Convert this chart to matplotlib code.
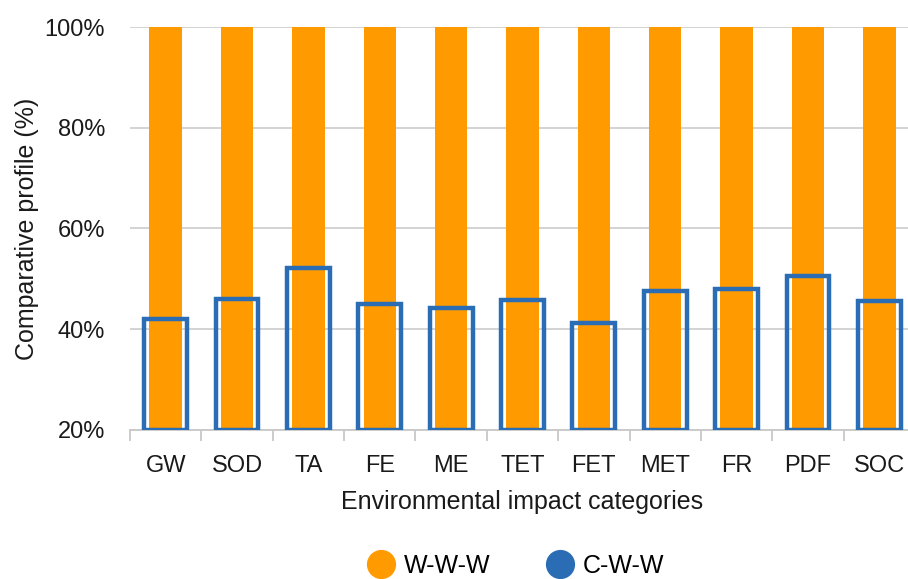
import matplotlib
matplotlib.use("Agg")
import matplotlib.pyplot as plt
import numpy as np
from matplotlib.lines import Line2D

plt.rcParams['font.family'] = ['Liberation Sans', 'DejaVu Sans']

categories = ['GW', 'SOD', 'TA', 'FE', 'ME', 'TET', 'FET', 'MET', 'FR', 'PDF', 'SOC']
www = [100, 100, 100, 100, 100, 100, 100, 100, 100, 100, 100]
cww = [42.0, 46.1, 52.1, 45.0, 44.3, 45.9, 41.2, 47.5, 48.0, 50.6, 45.7]
yticks = [20, 40, 60, 80, 100]

orange = '#ff9a00'
blue = '#2a6db5'
base = 20

fig = plt.figure(figsize=(9.08, 5.79), dpi=100)
ax = fig.add_axes([130 / 908, 1 - 430 / 579, 785 / 908, 403 / 579])

x = np.arange(len(categories))
ax.bar(x, np.array(www) - base, bottom=base, width=0.455, color=orange, zorder=2)
ax.bar(x, np.array(cww) - base, bottom=base, width=0.6, fill=False,
       edgecolor=blue, linewidth=3.2, zorder=3)

ax.set_xlim(-0.5, len(categories) - 0.5)
ax.set_ylim(20, 100)
ax.set_yticks(yticks)
ax.set_yticklabels(['%d%%' % v for v in yticks])
ax.set_xticks(x)
ax.set_xticklabels(categories)
ax.set_xticks(np.arange(len(categories) + 1) - 0.5, minor=True)
ax.tick_params(axis='x', which='major', length=0, pad=18, labelsize=17, colors='#1a1a1a')
ax.tick_params(axis='x', which='minor', length=8, width=1.3, color='#c8c8c8')
ax.tick_params(axis='y', length=0, pad=18, labelsize=17, colors='#1a1a1a')

ax.grid(axis='y', color='#d0d0d0', linewidth=1.3, zorder=0)
ax.set_axisbelow(True)
for s in ['left', 'right', 'top']:
    ax.spines[s].set_visible(False)
ax.spines['bottom'].set_color('#c8c8c8')
ax.spines['bottom'].set_linewidth(1.3)

ax.set_xlabel('Environmental impact categories', fontsize=18, color='#1a1a1a', labelpad=9)
ax.set_ylabel('Comparative profile (%)', fontsize=18, color='#1a1a1a')
ax.yaxis.set_label_coords(-91 / 785, 0.5)

handles = [Line2D([], [], marker='o', linestyle='none', markersize=20,
                  markerfacecolor=orange, markeredgecolor=orange, label='W-W-W'),
           Line2D([], [], marker='o', linestyle='none', markersize=20,
                  markerfacecolor=blue, markeredgecolor=blue, label='C-W-W')]
fig.legend(handles=handles, loc='center', bbox_to_anchor=(510 / 908, 1 - 566 / 579),
           ncol=2, frameon=False, fontsize=18, handletextpad=-0.1, columnspacing=1.8)

fig.savefig('out.png', dpi=100)
